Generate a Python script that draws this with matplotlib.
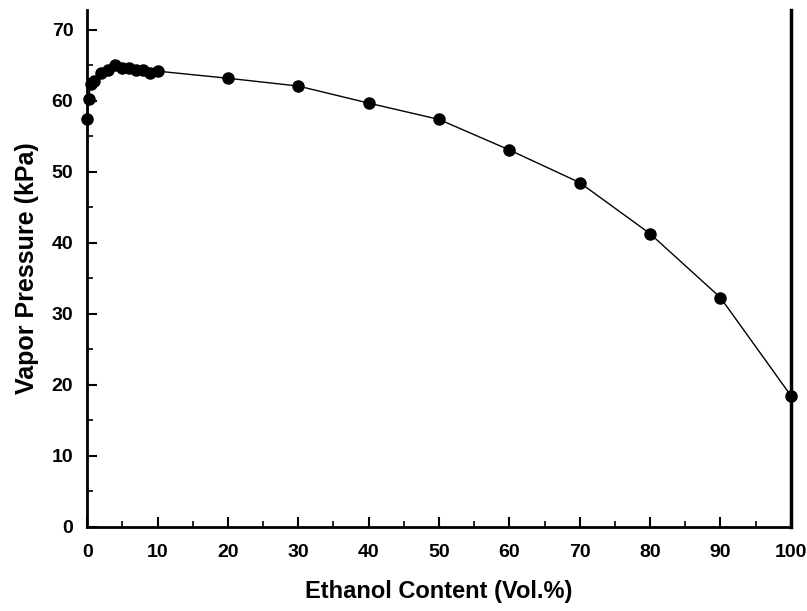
import matplotlib
matplotlib.use("Agg")
import matplotlib.pyplot as plt
from matplotlib.ticker import MultipleLocator

ethanol = [0, 0.2, 0.5, 1, 2, 3, 4, 5, 6, 7, 8, 9, 10,
           20, 30, 40, 50, 60, 70, 80, 90, 100]
pressure = [57.5, 60.3, 62.4, 62.8, 64.0, 64.3, 65.1, 64.6, 64.6, 64.4, 64.3, 63.9, 64.2,
            63.2, 62.1, 59.7, 57.4, 53.1, 48.5, 41.3, 32.3, 18.5]
xticks = [0, 10, 20, 30, 40, 50, 60, 70, 80, 90, 100]
yticks = [0, 10, 20, 30, 40, 50, 60, 70]

plt.rcParams['font.family'] = ['Liberation Sans', 'DejaVu Sans']

fig = plt.figure(figsize=(8.07, 6.11), dpi=100)
ax = fig.add_axes([0.108, 0.1375, 0.872, 0.846])

ax.plot(ethanol, pressure, color='black', linewidth=1.0, marker='o',
        markersize=8, markerfacecolor='black', markeredgecolor='black', clip_on=False)

ax.set_xlim(0, 100)
ax.set_ylim(0, 72.8)
ax.set_xticks(xticks)
ax.set_yticks(yticks)
ax.xaxis.set_minor_locator(MultipleLocator(5))
ax.yaxis.set_minor_locator(MultipleLocator(5))

ax.spines['top'].set_visible(False)
ax.spines['left'].set_linewidth(2.0)
ax.spines['bottom'].set_linewidth(2.0)
ax.spines['right'].set_linewidth(2.5)

ax.tick_params(axis='both', which='major', direction='in', length=7, width=1.5,
               labelsize=14)
ax.tick_params(axis='x', which='major', pad=12)
ax.tick_params(axis='y', which='major', pad=10)
ax.tick_params(axis='both', which='minor', direction='in', length=4, width=1.2)
ax.tick_params(axis='y', right=False)
for lab in ax.get_xticklabels() + ax.get_yticklabels():
    lab.set_fontweight('bold')

ax.set_xlabel('Ethanol Content (Vol.%)', fontsize=17, fontweight='bold', labelpad=14)
ax.set_ylabel('Vapor Pressure (kPa)', fontsize=18, fontweight='bold', labelpad=9)

fig.savefig('out.png', dpi=100)
